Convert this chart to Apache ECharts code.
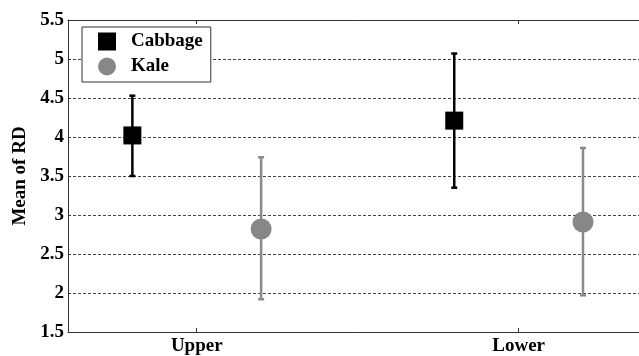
<!DOCTYPE html>
<html>
<head>
<meta charset="utf-8">
<script src="https://cdn.jsdelivr.net/npm/echarts@6/dist/echarts.min.js"></script>
<style>html,body{margin:0;padding:0;background:#fff;}#chart{width:639px;height:356px;}</style>
</head>
<body>
<div id="chart"></div>
<script>
const categories = ['Upper', 'Lower'];
const seriesNames = ['Cabbage', 'Kale'];
const cabbageMean = [4.02, 4.21];
const cabbageLow = [3.50, 3.35];
const cabbageHigh = [4.53, 5.07];
const kaleMean = [2.82, 2.91];
const kaleLow = [1.92, 1.97];
const kaleHigh = [3.74, 3.86];
const yTicks = [1.5, 2, 2.5, 3, 3.5, 4, 4.5, 5, 5.5];

const FONT = '"Liberation Serif", "Times New Roman", serif';
const OFFSET = 0.2;
const tickPos = categories.map((c, i) => i + 1);

function pts(mean, off) { return mean.map((v, i) => [i + 1 + off, v]); }
function errs(lo, hi, off) { return lo.map((v, i) => [i + 1 + off, v, hi[i]]); }

function errRender(color, width) {
  return function (params, api) {
    const x = api.value(0);
    const a = api.coord([x, api.value(2)]);
    const b = api.coord([x, api.value(1)]);
    const cap = 3;
    const st = { stroke: color, lineWidth: width };
    return {
      type: 'group',
      children: [
        { type: 'line', shape: { x1: a[0], y1: a[1], x2: b[0], y2: b[1] }, style: st },
        { type: 'line', shape: { x1: a[0] - cap, y1: a[1], x2: a[0] + cap, y2: a[1] }, style: st },
        { type: 'line', shape: { x1: b[0] - cap, y1: b[1], x2: b[0] + cap, y2: b[1] }, style: st }
      ]
    };
  };
}

const chart = echarts.init(document.getElementById('chart'));
const xmin = 0.6, xmax = 2.374;
const axisLineStyle = { color: '#333', width: 1 };
chart.setOption({
  animation: false,
  backgroundColor: '#fff',
  textStyle: { fontFamily: FONT },
  grid: { left: 68, right: 0, top: 20, bottom: 24 },
  legend: {
    data: [
      { name: seriesNames[0], icon: 'rect' },
      { name: seriesNames[1], icon: 'circle' }
    ],
    orient: 'vertical',
    left: 82, top: 27,
    padding: [5, 8, 6, 16],
    itemWidth: 18, itemHeight: 18, itemGap: 6,
    borderColor: '#333', borderWidth: 1,
    backgroundColor: '#fff',
    textStyle: { fontFamily: FONT, fontWeight: 'bold', fontSize: 19, color: '#000', padding: [0, 0, 0, 10] }
  },
  xAxis: [{
    type: 'value', min: xmin, max: xmax, position: 'bottom',
    splitLine: { show: false },
    axisLine: { show: true, lineStyle: axisLineStyle },
    axisTick: { show: true, inside: true, length: 4, customValues: tickPos, lineStyle: { color: '#333' } },
    axisLabel: {
      customValues: tickPos, margin: 5,
      formatter: v => categories[Math.round(v) - 1] || '',
      fontFamily: FONT, fontWeight: 'bold', fontSize: 19, color: '#000'
    }
  }, {
    type: 'value', min: xmin, max: xmax, position: 'top',
    splitLine: { show: false },
    axisLine: { show: true, lineStyle: axisLineStyle },
    axisTick: { show: true, inside: true, length: 4, customValues: tickPos, lineStyle: { color: '#333' } },
    axisLabel: { show: false }
  }],
  yAxis: {
    type: 'value', min: yTicks[0], max: yTicks[yTicks.length - 1], interval: 0.5,
    name: 'Mean of RD', nameLocation: 'middle', nameGap: 33,
    nameTextStyle: { fontFamily: FONT, fontWeight: 'bold', fontSize: 19, color: '#000' },
    axisLine: { show: true, lineStyle: axisLineStyle },
    axisTick: { show: true, inside: true, length: 3, lineStyle: { color: '#333' } },
    axisLabel: { margin: 4, fontFamily: FONT, fontWeight: 'bold', fontSize: 19, color: '#000', formatter: v => String(v) },
    splitLine: { show: true, lineStyle: { color: '#444', type: [3, 2], width: 1 } }
  },
  series: [
    {
      name: 'CabbageErr', type: 'custom', renderItem: errRender('#000', 2.5),
      data: errs(cabbageLow, cabbageHigh, -OFFSET), z: 3, encode: { x: 0, y: [1, 2] }
    },
    {
      name: 'KaleErr', type: 'custom', renderItem: errRender('#8a8a8a', 2.5),
      data: errs(kaleLow, kaleHigh, OFFSET), z: 3, encode: { x: 0, y: [1, 2] }
    },
    {
      name: seriesNames[0], type: 'scatter', symbol: 'rect', symbolSize: 18,
      itemStyle: { color: '#000', opacity: 1 }, data: pts(cabbageMean, -OFFSET), z: 5
    },
    {
      name: seriesNames[1], type: 'scatter', symbol: 'circle', symbolSize: 21,
      itemStyle: { color: '#878787', opacity: 1 }, data: pts(kaleMean, OFFSET), z: 5
    }
  ]
});
</script>
</body>
</html>
